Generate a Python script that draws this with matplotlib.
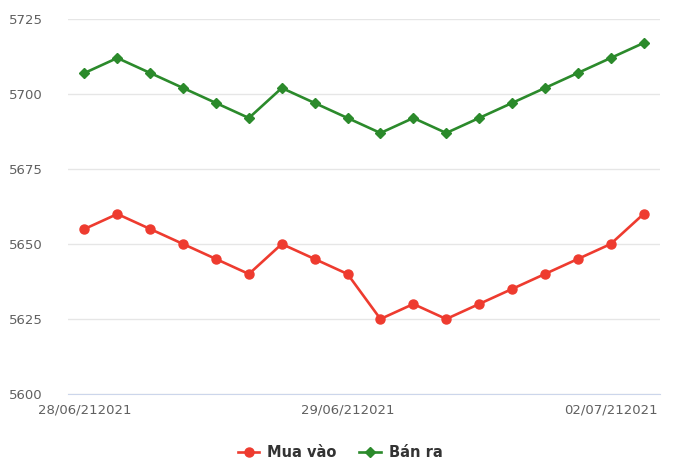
import matplotlib.pyplot as plt

# price series (18 samples)
mua_vao = [5655, 5660, 5655, 5650, 5645, 5640, 5650, 5645, 5640,
           5625, 5630, 5625, 5630, 5635, 5640, 5645, 5650, 5660]
ban_ra = [5707, 5712, 5707, 5702, 5697, 5692, 5702, 5697, 5692,
          5687, 5692, 5687, 5692, 5697, 5702, 5707, 5712, 5717]
tick_pos = [0, 8, 16]
tick_labels = ["28/06/212021", "29/06/212021", "02/07/212021"]
y_ticks = [5600, 5625, 5650, 5675, 5700, 5725]

fig = plt.figure(figsize=(6.8, 4.75), dpi=100)
ax = fig.add_axes([0.1, 0.1705, 0.8706, 0.7895])

x = list(range(len(mua_vao)))
ax.plot(x, mua_vao, color="#ee3b2f", lw=1.9, marker="o", ms=6.5,
        label="Mua vào", zorder=3)
ax.plot(x, ban_ra, color="#2b8a2b", lw=1.9, marker="D", ms=4.8,
        label="Bán ra", zorder=3)

ax.set_xlim(-0.5, 17.5)
ax.set_ylim(5600, 5725)
ax.set_yticks(y_ticks)
ax.set_xticks(tick_pos)
ax.set_xticklabels(tick_labels)

ax.grid(axis="y", color="#e6e6e6", lw=1)
ax.set_axisbelow(True)
for s in ["top", "right", "left"]:
    ax.spines[s].set_visible(False)
ax.spines["bottom"].set_color("#ccd6eb")
ax.tick_params(axis="both", length=0, labelsize=9.5, colors="#606060")
ax.tick_params(axis="y", pad=18)
ax.tick_params(axis="x", pad=7)

leg = fig.legend(loc="lower center", bbox_to_anchor=(0.5, 0.004), ncol=2,
                 frameon=False,
                 prop={"family": ["Liberation Sans Narrow", "DejaVu Sans"],
                       "weight": "bold", "size": 10.5},
                 handlelength=1.5, columnspacing=1.6, handletextpad=0.5)
for t in leg.get_texts():
    t.set_color("#333333")

fig.savefig("out.png", dpi=100)
